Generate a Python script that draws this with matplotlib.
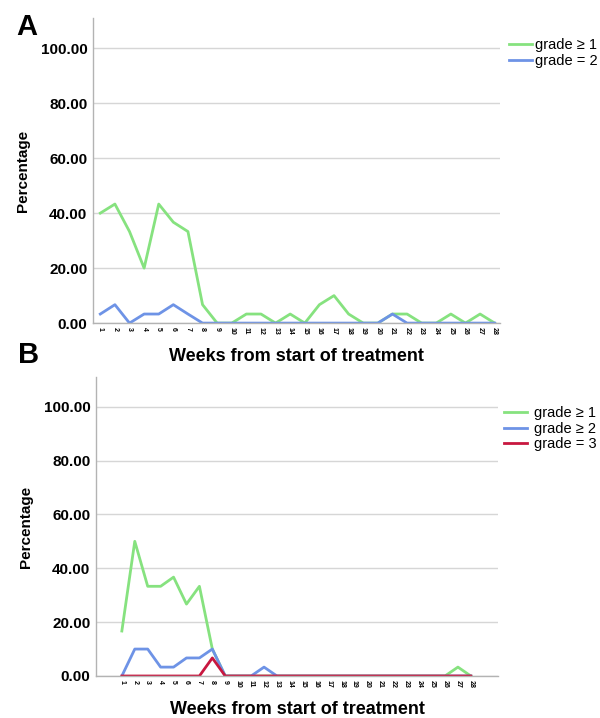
import numpy as np
import matplotlib
matplotlib.use("Agg")
import matplotlib.pyplot as plt

plt.rcParams['font.family'] = ['Liberation Sans', 'DejaVu Sans']

weeks = list(range(1, 29))

# Panel A (percent of patients per week)
a_grade_ge1 = [40.0, 43.3, 33.3, 20.0, 43.3, 36.7, 33.3, 6.7, 0, 0, 3.3, 3.3, 0, 3.3,
               0, 6.7, 10.0, 3.3, 0, 0, 3.3, 3.3, 0, 0, 3.3, 0, 3.3, 0]
a_grade_eq2 = [3.3, 6.7, 0, 3.3, 3.3, 6.7, 3.3, 0, 0, 0, 0, 0, 0, 0,
               0, 0, 0, 0, 0, 0, 3.3, 0, 0, 0, 0, 0, 0, 0]

# Panel B
b_grade_ge1 = [16.7, 50.0, 33.3, 33.3, 36.7, 26.7, 33.3, 10.0, 0, 0, 0, 0, 0, 0,
               0, 0, 0, 0, 0, 0, 0, 0, 0, 0, 0, 0, 3.3, 0]
b_grade_ge2 = [0, 10.0, 10.0, 3.3, 3.3, 6.7, 6.7, 10.0, 0, 0, 0, 3.3, 0, 0,
               0, 0, 0, 0, 0, 0, 0, 0, 0, 0, 0, 0, 0, 0]
b_grade_eq3 = [0, 0, 0, 0, 0, 0, 0, 6.7, 0, 0, 0, 0, 0, 0,
               0, 0, 0, 0, 0, 0, 0, 0, 0, 0, 0, 0, 0, 0]

yticks = [0, 20, 40, 60, 80, 100]

GREEN = '#86e27f'
BLUE = '#6e93e6'
RED = '#c8173f'
GRID = '#d6d6d6'
SPINE = '#b3b3b3'


def style_axes(ax, xlim):
    ax.set_xlim(*xlim)
    ax.set_ylim(0, 111)
    ax.set_yticks(yticks)
    ax.set_yticklabels([f"{v:.2f}" for v in yticks], fontsize=11, fontweight='bold')
    ax.set_xticks(weeks)
    ax.set_xticklabels([str(w) for w in weeks], rotation=270, fontsize=5,
                       fontweight='bold')
    ax.tick_params(axis='both', length=0, pad=4)
    ax.tick_params(axis='x', pad=3)
    ax.grid(axis='y', color=GRID, lw=1.0)
    ax.set_axisbelow(True)
    for s in ['top', 'right']:
        ax.spines[s].set_visible(False)
    for s in ['left', 'bottom']:
        ax.spines[s].set_color(SPINE)
        ax.spines[s].set_linewidth(1.0)
    ax.set_ylabel('Percentage', fontsize=11, fontweight='bold', labelpad=8)
    ax.set_xlabel('Weeks from start of treatment', fontsize=13, fontweight='bold',
                  labelpad=9)


fig = plt.figure(figsize=(6.0, 7.18), dpi=100)

# Panel A
axA = fig.add_axes([0.155, 0.550, 0.678, 0.425])
axA.plot(weeks, a_grade_ge1, color=GREEN, lw=2.0, label='grade \u2265 1')
axA.plot(weeks, a_grade_eq2, color=BLUE, lw=2.0, label='grade = 2')
style_axes(axA, (0.5, 28.35))
axA.legend(loc='upper left', bbox_to_anchor=(0.838, 0.955), bbox_transform=fig.transFigure,
           frameon=False, fontsize=10.5, handlelength=1.6, handletextpad=0.2,
           labelspacing=0.15, borderaxespad=0)

# Panel B
axB = fig.add_axes([0.160, 0.0585, 0.670, 0.4164])
axB.plot(weeks, b_grade_ge1, color=GREEN, lw=2.0, label='grade \u2265 1')
axB.plot(weeks, b_grade_ge2, color=BLUE, lw=2.0, label='grade \u2265 2')
axB.plot(weeks, b_grade_eq3, color=RED, lw=2.0, label='grade = 3')
style_axes(axB, (-1, 30.1))
axB.legend(loc='upper left', bbox_to_anchor=(0.83, 0.442), bbox_transform=fig.transFigure,
           frameon=False, fontsize=10.5, handlelength=1.6, handletextpad=0.5,
           labelspacing=0.1, borderaxespad=0)

fig.text(0.045, 0.962, 'A', fontsize=21, fontweight='bold', ha='center', va='center')
fig.text(0.048, 0.505, 'B', fontsize=21, fontweight='bold', ha='center', va='center')

fig.savefig('out.png', dpi=100, facecolor='white')
